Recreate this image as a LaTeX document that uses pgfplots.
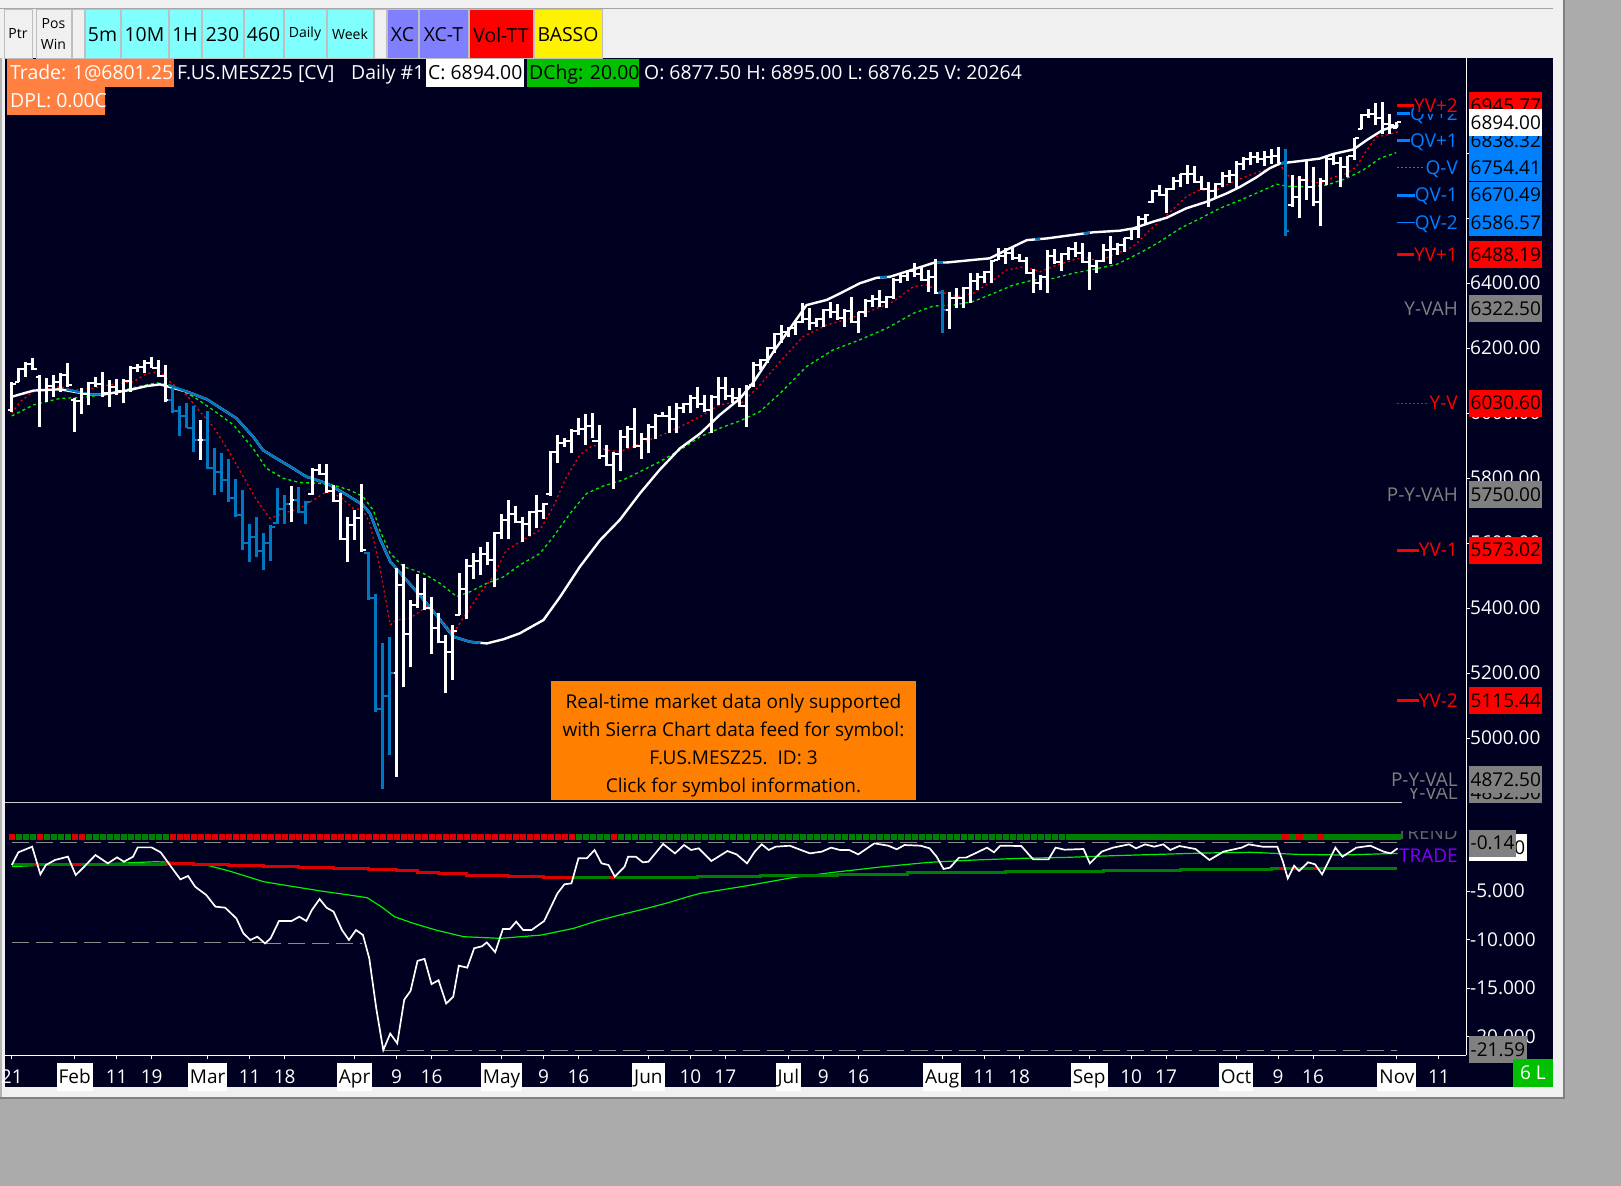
\documentclass[border=0pt]{standalone}
\usepackage{fontspec}
\setmainfont{Open Sans}
\usepackage{pgfplots}
\usepackage{pgfplotstable}
\pgfplotsset{compat=1.18}
\usetikzlibrary{calc}

\definecolor{chartbg}{HTML}{000020}
\definecolor{barblue}{HTML}{0078C0}
\definecolor{qblue}{HTML}{0080FF}
\definecolor{trgreen}{HTML}{008000}
\definecolor{trred}{HTML}{DD0000}
\definecolor{lgreen}{HTML}{00F000}
\definecolor{win}{HTML}{F0F0F0}
\definecolor{desk}{HTML}{ABABAB}
\definecolor{cyanbtn}{HTML}{80FFFF}
\definecolor{lavbtn}{HTML}{8080FF}
\definecolor{orng}{HTML}{FF8040}
\definecolor{infobox}{HTML}{FF8000}
\definecolor{dchg}{HTML}{00C000}
\definecolor{purp}{HTML}{8000FF}
\definecolor{lvlgray}{HTML}{808080}
\definecolor{dashgray}{HTML}{8C8C8C}

\newcommand\lab{\fontsize{19bp}{22bp}\selectfont}
\newcommand\hdr{\fontsize{19.4bp}{22bp}\selectfont}
\newcommand\sml{\fontsize{14bp}{16bp}\selectfont}
\newcommand\mon[1]{{\setlength{\fboxsep}{0pt}\colorbox{white}{\rule[-8bp]{0pt}{28bp}\hspace{2bp}\textcolor{black}{#1}\hspace{2bp}}}}

% daily bars: index, open, high, low, close, colour (1 = blue), trend (g/r)
\pgfplotstableread{
i O H L C c t
0 6010 6096 6004 6090 0 r
1 6096 6137 6096 6135 0 g
2 6135 6158 6112 6150 0 g
3 6150 6168 6132 6135 0 g
4 6110 6117 5956 6071 0 r
5 6071 6107 6035 6083 0 g
6 6083 6117 6050 6094 0 g
7 6094 6122 6066 6117 0 g
8 6117 6153 6081 6085 0 g
9 6040 6045 5943 6036 0 r
10 6036 6076 5997 6060 0 r
11 6060 6096 6025 6092 0 g
12 6092 6112 6081 6088 0 g
13 6088 6127 6050 6061 0 g
14 6061 6102 6020 6080 0 g
15 6080 6104 6055 6067 0 g
16 6067 6104 6030 6100 0 g
17 6100 6145 6066 6139 0 g
18 6139 6151 6127 6142 0 g
19 6142 6163 6122 6154 0 g
20 6154 6171 6137 6140 0 g
21 6140 6163 6112 6115 0 g
22 6115 6148 6033 6040 0 g
23 6040 6076 6001 6005 1 r
24 6005 6021 5930 5992 1 r
25 5992 6032 5953 5955 1 r
26 5955 6021 5881 5916 1 r
27 5916 5978 5855 5917 0 r
28 5917 6007 5828 5832 1 r
29 5832 5891 5748 5817 1 r
30 5817 5876 5758 5793 1 r
31 5793 5860 5727 5740 1 r
32 5740 5796 5681 5685 1 r
33 5685 5763 5578 5601 1 r
34 5601 5660 5543 5619 1 r
35 5619 5681 5558 5574 1 r
36 5574 5632 5517 5600 1 r
37 5600 5655 5546 5650 1 r
38 5662 5768 5660 5704 1 r
39 5704 5748 5660 5720 1 r
40 5720 5775 5666 5732 0 r
41 5732 5773 5691 5695 1 r
42 5695 5730 5660 5725 1 r
43 5750 5832 5748 5826 0 r
44 5826 5843 5809 5812 0 r
45 5812 5843 5753 5760 0 r
46 5760 5778 5727 5730 0 r
47 5730 5755 5609 5611 0 r
48 5611 5681 5542 5655 0 r
49 5655 5701 5609 5677 0 r
50 5677 5781 5573 5580 0 r
51 5570 5573 5425 5430 1 r
52 5430 5442 5081 5090 1 r
53 5090 5291 4842 5130 1 r
54 5130 5312 4948 5201 1 r
55 5201 5522 4881 5470 0 r
56 5470 5534 5156 5321 0 r
57 5321 5425 5217 5410 0 r
58 5410 5504 5399 5442 0 r
59 5442 5491 5394 5400 0 r
60 5400 5435 5260 5337 0 r
61 5337 5384 5291 5295 0 r
62 5295 5317 5137 5264 0 r
63 5264 5348 5180 5330 0 r
64 5380 5507 5378 5457 0 r
65 5457 5550 5365 5528 0 r
66 5528 5568 5488 5545 0 r
67 5545 5589 5501 5566 0 r
68 5566 5602 5531 5548 0 r
69 5548 5633 5464 5630 0 r
70 5630 5688 5611 5671 0 r
71 5671 5732 5611 5688 0 r
72 5688 5714 5663 5665 0 r
73 5665 5681 5604 5660 0 r
74 5660 5698 5622 5696 0 r
75 5696 5748 5645 5697 0 r
76 5697 5722 5673 5720 0 r
77 5750 5883 5745 5880 0 r
78 5880 5932 5845 5909 0 r
79 5909 5922 5896 5913 0 r
80 5913 5950 5876 5945 0 r
81 5945 5984 5932 5950 0 g
82 5950 5996 5901 5960 0 g
83 5960 5999 5922 5915 0 g
84 5915 5963 5857 5869 0 g
85 5869 5901 5837 5840 0 g
86 5840 5881 5765 5875 0 r
87 5875 5948 5822 5925 0 g
88 5925 5960 5891 5952 0 g
89 5952 6014 5891 5899 0 g
90 5899 5938 5860 5921 0 g
91 5921 5966 5876 5958 0 g
92 5958 5997 5919 5990 0 g
93 5990 6004 5987 5990 0 g
94 5990 6022 5937 5983 0 g
95 5983 6030 5937 6014 0 g
96 6014 6030 5999 6027 0 g
97 6027 6055 5999 6046 0 g
98 6046 6079 6014 6029 0 g
99 6029 6055 6004 6010 0 g
100 6010 6055 5938 6050 0 g
101 6050 6110 6025 6076 0 g
102 6076 6112 6040 6053 0 g
103 6053 6076 6030 6047 0 g
104 6047 6076 6019 6022 0 g
105 6022 6086 5958 6080 0 g
106 6085 6158 6081 6148 0 g
107 6148 6165 6132 6162 0 g
108 6162 6204 6153 6200 0 g
109 6200 6247 6184 6242 0 g
110 6242 6271 6214 6250 0 g
111 6250 6266 6235 6263 0 g
112 6263 6286 6240 6280 0 g
113 6280 6337 6276 6288 0 g
114 6288 6322 6255 6278 0 g
115 6278 6291 6266 6290 0 g
116 6290 6319 6266 6317 0 g
117 6317 6343 6291 6310 0 g
118 6310 6335 6286 6292 0 g
119 6292 6319 6266 6315 0 g
120 6315 6358 6276 6279 0 g
121 6279 6312 6247 6310 0 g
122 6310 6350 6296 6345 0 g
123 6345 6363 6327 6352 0 g
124 6352 6378 6327 6341 0 g
125 6341 6360 6322 6358 0 g
126 6358 6414 6350 6410 0 g
127 6410 6430 6399 6423 0 g
128 6423 6440 6407 6438 0 g
129 6438 6462 6419 6429 0 g
130 6429 6452 6407 6410 0 g
131 6410 6440 6373 6419 0 g
132 6419 6473 6366 6370 0 g
133 6370 6378 6247 6316 1 g
134 6316 6373 6260 6353 0 g
135 6353 6384 6322 6354 0 g
136 6354 6387 6322 6385 0 g
137 6385 6432 6339 6405 0 g
138 6405 6432 6378 6418 0 g
139 6418 6438 6399 6435 0 g
140 6435 6471 6399 6468 0 g
141 6471 6507 6471 6483 0 g
142 6483 6507 6460 6491 0 g
143 6491 6512 6471 6477 0 g
144 6477 6489 6466 6468 0 g
145 6468 6481 6428 6430 0 g
146 6430 6442 6370 6401 0 g
147 6401 6425 6378 6420 0 g
148 6420 6501 6370 6482 0 g
149 6482 6504 6460 6464 0 g
150 6464 6491 6438 6488 0 g
151 6488 6512 6471 6504 0 g
152 6504 6527 6481 6493 0 g
153 6493 6524 6462 6465 0 g
154 6465 6496 6380 6451 0 g
155 6451 6471 6432 6469 0 g
156 6469 6520 6465 6503 0 g
157 6503 6546 6460 6504 0 g
158 6504 6522 6486 6518 0 g
159 6518 6540 6496 6538 0 g
160 6538 6568 6532 6566 0 g
161 6566 6606 6540 6597 0 g
162 6597 6612 6583 6610 0 g
163 6650 6686 6647 6684 0 g
164 6684 6701 6668 6670 0 g
165 6670 6691 6616 6688 0 g
166 6688 6725 6686 6715 0 g
167 6715 6735 6696 6734 0 g
168 6734 6763 6705 6734 0 g
169 6734 6760 6709 6712 0 g
170 6712 6729 6686 6690 0 g
171 6690 6712 6633 6683 0 g
172 6683 6707 6660 6705 0 g
173 6705 6742 6696 6728 0 g
174 6728 6748 6709 6732 0 g
175 6732 6776 6688 6767 0 g
176 6767 6787 6748 6783 0 g
177 6783 6804 6763 6787 0 g
178 6787 6804 6770 6783 0 g
179 6783 6807 6760 6788 0 g
180 6788 6811 6766 6792 0 g
181 6792 6817 6768 6770 0 g
182 6770 6811 6546 6560 1 r
183 6640 6732 6635 6665 0 g
184 6665 6729 6601 6716 0 r
185 6716 6778 6655 6696 0 g
186 6696 6756 6637 6648 0 g
187 6648 6722 6575 6715 0 r
188 6715 6791 6701 6781 0 g
189 6781 6799 6763 6770 0 g
190 6770 6789 6696 6758 0 g
191 6758 6791 6725 6790 0 g
192 6790 6845 6780 6845 0 g
193 6875 6920 6873 6918 0 g
194 6918 6934 6907 6919 0 g
195 6919 6953 6886 6909 0 g
196 6909 6958 6860 6889 0 g
197 6889 6920 6858 6885 0 g
198 6877.5 6895 6876.25 6894 0 g
}\bars

\begin{document}
\begin{tikzpicture}
\fill[desk] (0,0) rectangle (1621bp,-1186bp);
\useasboundingbox (0,0) rectangle (1621bp,-1186bp);

\begin{scope}[x=1bp,y=-1bp]
  % window and chart area
  \fill[win] (0,0) rectangle (1563,1097);
  \draw[gray, line width=1.5bp] (1564,0) -- (1564,1098) -- (0,1098);
  \draw[lvlgray!70, line width=1bp] (0,8) -- (1553,8);
  \fill[chartbg] (5,58) rectangle (1553,1087);
  \draw[lvlgray!60, line width=1.5bp] (1,58) -- (1,1097);
  % toolbar
  \tikzset{btn/.style={draw=black!25, line width=0.8bp}}
  \filldraw[btn, fill=win] (4,9) rectangle (32,58);
  \node[font=\sml] at (18,34) {Ptr};
  \filldraw[btn, fill=win] (36,9) rectangle (71,58);
  \node[font=\sml] at (53.5,24) {Pos};
  \node[font=\sml] at (53.5,44) {Win};
  \filldraw[btn, fill=win] (72,9) rectangle (84,58);
  \filldraw[btn, fill=cyanbtn] (85,9) rectangle (120,58);
  \node[font=\hdr] at (102.5,35) {5m};
  \filldraw[btn, fill=cyanbtn] (121,9) rectangle (168,58);
  \node[font=\hdr] at (144.5,35) {10M};
  \filldraw[btn, fill=cyanbtn] (169,9) rectangle (201,58);
  \node[font=\hdr] at (185,35) {1H};
  \filldraw[btn, fill=cyanbtn] (202,9) rectangle (243,58);
  \node[font=\hdr] at (222.5,35) {230};
  \filldraw[btn, fill=cyanbtn] (244,9) rectangle (283,58);
  \node[font=\hdr] at (263.5,35) {460};
  \filldraw[btn, fill=cyanbtn] (284,9) rectangle (326,58);
  \node[font=\sml] at (305,34) {Daily};
  \filldraw[btn, fill=cyanbtn] (327,9) rectangle (373,58);
  \node[font=\sml] at (350,34) {Week};
  \filldraw[btn, fill=win] (374,9) rectangle (386,58);
  \filldraw[btn, fill=lavbtn] (387,9) rectangle (418,58);
  \node[font=\hdr] at (402.5,35) {XC};
  \filldraw[btn, fill=lavbtn] (419,9) rectangle (468,58);
  \node[font=\hdr] at (443.5,35) {XC-T};
  \filldraw[btn, fill=red] (469,9) rectangle (533,58);
  \node[font=\hdr] at (501,35) {Vol-TT};
  \filldraw[btn, fill=yellow] (534,9) rectangle (602,58);
  \node[font=\hdr] at (568,35) {BASSO};
  % header
  \tikzset{hd/.style={anchor=base west, inner sep=0pt, font=\hdr}}
  \fill[orng] (7,59) rectangle (174,87);
  \fill[orng] (7,87) rectangle (105,115);
  \node[hd, text=white] at (10,79) {Trade: 1@6801.25};
  \node[hd, text=white] at (10,107) {DPL: 0.00C};
  \node[hd, text=white] at (177,79) {F.US.MESZ25 [CV]};
  \node[hd, text=white] at (351,79) {Daily \#1};
  \fill[white] (426,59) rectangle (524,87);
  \node[hd, text=black] at (428,79) {C: 6894.00};
  \fill[dchg] (527,59) rectangle (639,87);
  \node[hd, text=black] at (529,79) {DChg: 20.00};
  \node[hd, text=white] at (644,79) {O: 6877.50 H: 6895.00 L: 6876.25 V: 20264};
\end{scope}

\begin{axis}[
  scale only axis, width=1461bp, height=744bp,
  at={(5bp,-58bp)}, anchor=north west,
  xmin=-0.97, xmax=207.87, ymin=4803.1, ymax=7092.3,
  axis x line=none, axis y line*=right,
  axis line style={white, line width=1bp},
  ytick={5000,5200,...,6800},
  tick align=outside, major tick length=4bp,
  tick style={white, line width=1bp},
  yticklabel style={font=\lab, text=white, anchor=west, inner sep=0pt},
  yticklabel={\pgfmathprintnumber[fixed,fixed zerofill,precision=2,1000 sep={},assume math mode=true]{\tick}},
]
% medium average, green dashed
\addplot[lgreen, line width=1.3bp, dash pattern=on 3bp off 3bp] coordinates {
(0,5991) (3.1,6025) (6.9,6045) (10.2,6048) (13.6,6058) (17.4,6078) (20.7,6093) (22.6,6086) (26,6050) (28.8,6009) (31.7,5963) (34.5,5891) (36.4,5830) (38.8,5799) (41.2,5786) (43.6,5784) (46,5778) (48.3,5763) (50.2,5743) (51.7,5700) (52.6,5640) (54.1,5568) (56,5527) (58.8,5507) (61.2,5476) (63.6,5435) (65.5,5450) (67.9,5476) (70.3,5496) (72.6,5532) (75.5,5568) (77.4,5619) (79.8,5691) (82.2,5753) (84.5,5775) (87.4,5794) (90.3,5825) (92.6,5850) (95.5,5886) (98.4,5927) (101.2,5953) (104.1,5976) (106.9,6004) (109.8,6060) (113.6,6143) (117.4,6194) (121.2,6225) (125.1,6261) (128.9,6307) (131.7,6329) (134.6,6332) (137.4,6343) (140.3,6368) (143.2,6394) (146,6409) (148.9,6414) (151.7,6430) (154.6,6442) (157.9,6457) (161.3,6493) (164.1,6527) (167,6568) (169.9,6599) (172.7,6630) (175.6,6655) (178.4,6681) (180.8,6704) (182.2,6698) (185.1,6696) (187.9,6701) (190.8,6722) (193.2,6748) (195.6,6784) (197.9,6801)};
% fast average, red dotted
\addplot[red, line width=1.3bp, dash pattern=on 2bp off 3bp] coordinates {
(0,5999) (1.2,6035) (3.1,6066) (6.9,6081) (8.8,6071) (11.6,6076) (15,6091) (17.4,6096) (19.3,6122) (21.2,6127) (22.6,6096) (25,6055) (26.9,6004) (28.8,5958) (31.2,5876) (33.1,5804) (35,5732) (36.9,5676) (38.8,5691) (41.2,5707) (43.1,5732) (45,5758) (46.9,5743) (48.8,5707) (50.2,5702) (51.2,5660) (52.6,5527) (54.1,5348) (55,5363) (56.9,5368) (59.3,5404) (61.2,5368) (63.1,5322) (65,5384) (66.9,5445) (68.8,5496) (70.7,5578) (73.1,5609) (75.5,5640) (77.4,5712) (79.3,5804) (81.2,5871) (83.1,5901) (85,5886) (86.9,5881) (89.3,5901) (91.7,5922) (94.1,5943) (96.5,5968) (98.8,5994) (101.2,6025) (103.6,6035) (104.3,6030) (106.7,6080) (109.5,6150) (113.1,6235) (116.5,6271) (119.8,6291) (123.1,6317) (126,6343) (128.9,6389) (130.8,6394) (132.7,6373) (135.1,6358) (137.4,6368) (140.3,6409) (142.2,6440) (144.6,6450) (147,6435) (149.4,6455) (151.7,6471) (153.2,6479) (155.5,6468) (157.9,6490) (160.3,6512) (162.7,6563) (165.1,6609) (167.9,6666) (169.8,6686) (172.2,6686) (174.6,6712) (177,6732) (179.4,6750) (181.3,6763) (182.7,6725) (185.1,6717) (187,6707) (188.9,6725) (190.8,6737) (192.2,6758) (193.7,6809) (195.1,6850) (196.5,6855) (198.2,6866)};
% slow average, white when rising, blue when falling
\addplot[white, line width=2.4bp] coordinates {
(0,6050) (3.1,6069) (6.9,6073) (11.2,6057) (13.1,6057) (16.9,6071) (19.3,6083) (21.2,6088) (25,6066) (27.9,6042) (32.1,5984) (34.5,5927) (35.9,5886) (37.4,5866) (39.8,5835) (42.1,5804) (45,5784) (47.9,5748) (50.2,5717) (51.2,5691) (52.6,5614) (54.1,5543) (56,5496) (58.3,5440) (60.7,5378) (63.1,5312) (65.5,5296) (67.9,5291) (70.3,5304) (72.6,5322) (76,5363) (78.4,5435) (81.2,5527) (84.1,5609) (86.9,5671) (89.8,5753) (92.6,5825) (95.5,5891) (98.4,5937) (101.2,5994) (104.1,6045) (106,6094) (108.9,6189) (113.6,6332) (116.5,6348) (118.4,6368) (121.2,6399) (123.6,6416) (125.5,6419) (128.9,6442) (131.9,6463) (133.6,6463) (137.4,6471) (139.8,6476) (142.2,6502) (145.1,6532) (147.9,6537) (151.7,6548) (154.6,6556) (158.4,6561) (160.3,6568) (163.2,6589) (165.1,6601) (167.9,6630) (170.8,6650) (173.7,6676) (175.6,6696) (177.9,6725) (179.8,6753) (181.3,6768) (184.1,6775) (187,6783) (188.9,6797) (191.8,6811) (193.7,6840) (196,6871) (198.2,6886)};
\addplot[barblue, line width=2.4bp] coordinates {(7.8,6073) (11.2,6057) (13.1,6057)};
\addplot[barblue, line width=2.4bp] coordinates {(22.4,6086) (25,6066) (27.9,6042) (32.1,5984) (34.5,5927) (35.9,5886) (37.4,5866) (39.8,5835) (42.1,5804) (45,5784) (47.9,5748) (50.2,5717) (51.2,5691) (52.6,5614) (54.1,5543) (56,5496) (58.3,5440) (60.7,5378) (63.1,5312) (65.5,5296) (67,5293)};
\addplot[barblue, line width=2.4bp] coordinates {(124.1,6417) (125.1,6419)};
\addplot[barblue, line width=2.4bp] coordinates {(132.3,6463) (133.1,6463)};
\addplot[barblue, line width=2.4bp] coordinates {(146.3,6534) (147,6536)};
\addplot[barblue, line width=2.4bp] coordinates {(153.2,6552) (154.1,6555)};
\addplot[barblue, line width=2.4bp] coordinates {(181.3,6768) (182,6770)};
% OHLC bars
\addplot[white, line width=3bp, quiver={u=0, v=\thisrow{H}-\thisrow{L}},
  restrict expr to domain={\thisrow{c}}{-0.5:0.5}] table[x=i, y=L] {\bars};
\addplot[white, line width=2bp, quiver={u=-0.6, v=0},
  restrict expr to domain={\thisrow{c}}{-0.5:0.5}] table[x=i, y=O] {\bars};
\addplot[white, line width=2bp, quiver={u=0.6, v=0},
  restrict expr to domain={\thisrow{c}}{-0.5:0.5}] table[x=i, y=C] {\bars};
\addplot[barblue, line width=3bp, quiver={u=0, v=\thisrow{H}-\thisrow{L}},
  restrict expr to domain={\thisrow{c}}{0.5:1.5}] table[x=i, y=L] {\bars};
\addplot[barblue, line width=2bp, quiver={u=-0.6, v=0},
  restrict expr to domain={\thisrow{c}}{0.5:1.5}] table[x=i, y=O] {\bars};
\addplot[barblue, line width=2bp, quiver={u=0.6, v=0},
  restrict expr to domain={\thisrow{c}}{0.5:1.5}] table[x=i, y=C] {\bars};
\end{axis}

\begin{scope}[x=1bp,y=-1bp]
  % info box
  \fill[infobox] (551,681) rectangle (916,800);
  \tikzset{ib/.style={anchor=base, inner sep=0pt, font=\lab, text=black}}
  \node[ib] at (733.5,708) {Real-time market data only supported};
  \node[ib] at (733.5,736) {with Sierra Chart data feed for symbol:};
  \node[ib] at (733.5,764) {F.US.MESZ25.\ \ ID: 3};
  \node[ib] at (733.5,792) {Click for symbol information.};
  % level labels (drawn on the chart colour, so later ones hide earlier ones)
  \tikzset{rl/.style={anchor=base east, inner xsep=0pt, inner ysep=1.5bp, fill=chartbg, font=\lab},
           pb/.style={anchor=west, inner xsep=1.5bp, inner ysep=0pt, minimum height=27bp,
                      text height=13.6bp, text depth=0bp, font=\lab, text=black}}
  \node[rl, text=qblue] (q2) at (1458,120.2) {QV+2};
  \draw[qblue, line width=3bp] (1397,113.4) -- (q2.west |- 0,113.4);
  \node[rl, text=red] (y2) at (1458,112.4) {YV+2};
  \draw[red, line width=3bp] (1397,105.6) -- (y2.west |- 0,105.6);
  \node[rl, text=qblue] (q1) at (1458,147.3) {QV+1};
  \draw[qblue, line width=3bp] (1397,140.5) -- (q1.west |- 0,140.5);
  \node[rl, text=qblue] (qv) at (1458,174.6) {Q-V};
  \draw[qblue, line width=1bp, dash pattern=on 2bp off 2bp] (1397,167.8) -- ($(qv.west |- 0,167.8)+(-2,0)$);
  \node[rl, text=qblue] (qm1) at (1458,201.9) {QV-1};
  \draw[qblue, line width=3bp] (1397,195.1) -- (qm1.west |- 0,195.1);
  \node[rl, text=qblue] (qm2) at (1458,229.2) {QV-2};
  \draw[qblue, line width=1.8bp] (1397,222.4) -- (qm2.west |- 0,222.4);
  \node[rl, text=red] (y1) at (1458,261.1) {YV+1};
  \draw[red, line width=3bp] (1397,254.3) -- (y1.west |- 0,254.3);
  \node[rl, text=lvlgray] at (1458,315) {Y-VAH};
  \node[rl, text=red] (yv) at (1458,409.9) {Y-V};
  \draw[red, line width=1bp, dash pattern=on 2bp off 2bp] (1397,403.1) -- ($(yv.west |- 0,403.1)+(-2,0)$);
  \node[rl, text=lvlgray] at (1458,501.1) {P-Y-VAH};
  \node[rl, text=red] (ym1) at (1458,556.8) {YV-1};
  \draw[red, line width=3bp] (1397,550) -- (ym1.west |- 0,550);
  \node[rl, text=red] (ym2) at (1458,707.3) {YV-2};
  \draw[red, line width=2.5bp] (1397,700.5) -- (ym2.west |- 0,700.5);
  \node[rl, text=lvlgray] at (1458,799.2) {Y-VAL};
  \node[rl, text=lvlgray] at (1458,786.2) {P-Y-VAL};
  % price boxes
  \node[pb, fill=red] at (1469,105.6) {6945.77};
  \node[pb, fill=qblue] at (1469,140.5) {6838.32};
  \node[pb, fill=qblue] at (1469,167.8) {6754.41};
  \node[pb, fill=qblue] at (1469,195.1) {6670.49};
  \node[pb, fill=qblue] at (1469,222.4) {6586.57};
  \node[pb, fill=white] at (1469,122.5) {6894.00};
  \node[pb, fill=red] at (1469,254.3) {6488.19};
  \node[pb, fill=lvlgray] at (1469,308.2) {6322.50};
  \node[pb, fill=red] at (1469,403.1) {6030.60};
  \node[pb, fill=lvlgray] at (1469,494.3) {5750.00};
  \node[pb, fill=red] at (1469,550) {5573.02};
  \node[pb, fill=red] at (1469,700.5) {5115.44};
  \node[pb, fill=lvlgray] at (1469,792.4) {4832.50};
  \node[pb, fill=lvlgray] at (1469,779.4) {4872.50};
  % lower pane area
  \fill[chartbg] (5,802.5) rectangle (1553,1087);
\end{scope}

\begin{axis}[
  scale only axis, width=1461bp, height=253bp,
  at={(5bp,-802bp)}, anchor=north west,
  xmin=-0.97, xmax=207.87, ymin=-21.907, ymax=4.175,
  axis x line*=bottom, axis y line*=right,
  axis line style={white, line width=1bp},
  tick align=outside, major tick length=4bp,
  tick style={white, line width=1bp},
  xtick={0,9,15,20,28,34,39,49,55,60,70,76,81,91,97,102,111,116,121,133,139,144,154,160,165,175,181,186,198,204},
  xticklabels={21,\mon{Feb},11,19,\mon{Mar},11,18,\mon{Apr},9,16,\mon{May},9,16,\mon{Jun},10,17,\mon{Jul},9,16,\mon{Aug},11,18,\mon{Sep},10,17,\mon{Oct},9,16,\mon{Nov},11},
  xticklabel style={font=\lab, text=white, anchor=base, inner sep=0pt, yshift=-24bp},
  ytick={-20,-15,-10,-5},
  yticklabel style={font=\lab, text=white, anchor=west, inner sep=0pt},
  yticklabel={\pgfmathprintnumber[fixed,fixed zerofill,precision=3,assume math mode=true]{\tick}},
]
% reference levels
\addplot[dashgray, line width=1.2bp, dash pattern=on 17bp off 7bp] coordinates {(0,0) (198,0)};
\addplot[dashgray, line width=1.2bp, dash pattern=on 17bp off 7bp] coordinates {(0,-10.3) (36,-10.3)};
\addplot[dashgray, line width=1.2bp, dash pattern=on 17bp off 7bp] coordinates {(36,-10.45) (50,-10.45)};
\addplot[dashgray, line width=1.2bp, dash pattern=on 17bp off 7bp] coordinates {(53,-21.45) (198,-21.45)};
% signal line, thin green
\addplot[lgreen, line width=1.2bp] coordinates {
(0,-2.49) (4.9,-2.32) (11.4,-2.25) (20.6,-1.98) (22.6,-2.04) (27.8,-2.32) (31.1,-2.94) (36,-4.04) (40.3,-4.55) (44.2,-5.0) (48.2,-5.41) (50.8,-5.69) (52.8,-6.61) (54.7,-7.65) (57.4,-8.33) (60.6,-9.02) (64.6,-9.71) (69.8,-9.88) (75.7,-9.54) (80.3,-8.85) (83.6,-8.09) (86.9,-7.47) (90.2,-6.89) (93.5,-6.27) (96.7,-5.58) (98.4,-5.24) (104.9,-4.48) (111.5,-3.63) (117.4,-3.08) (124.6,-2.49) (131.2,-2.04) (137.7,-1.8) (144.3,-1.63) (150.9,-1.53) (157.4,-1.36) (164,-1.22) (170.6,-1.08) (177.1,-1.01) (183.7,-1.22) (190.2,-1.29) (198.1,-1.12)};
% slow stepped line, green with red stretches
\addplot[trgreen, line width=3bp, const plot] coordinates {
(0,-2.25) (22,-2.2) (26,-2.28) (31,-2.35) (36,-2.45) (41,-2.56) (46,-2.65) (51,-2.77) (55,-2.9) (58,-3.08) (61,-3.2) (65,-3.35) (71,-3.5) (76,-3.59) (98,-3.49) (107,-3.35) (118,-3.28) (128,-3.14) (142,-3.04) (156,-2.87) (167,-2.77) (180,-2.7) (198,-2.7)};
\addplot[trred, line width=3bp, const plot] coordinates {(3,-2.25) (4,-2.25)};
\addplot[trred, line width=3bp, const plot] coordinates {(8.5,-2.25) (10,-2.25)};
\addplot[trred, line width=3bp, const plot] coordinates {
(22,-2.2) (26,-2.28) (31,-2.35) (36,-2.45) (41,-2.56) (46,-2.65) (51,-2.77) (55,-2.9) (58,-3.08) (61,-3.2) (65,-3.35) (71,-3.5) (76,-3.59) (80.3,-3.59)};
\addplot[trred, line width=3bp, const plot] coordinates {(85.5,-3.59) (86.3,-3.59)};
\addplot[trred, line width=3bp, const plot] coordinates {(181.2,-2.7) (182,-2.7)};
\addplot[trred, line width=3bp, const plot] coordinates {(183,-2.7) (183.7,-2.7)};
\addplot[trred, line width=3bp, const plot] coordinates {(186,-2.7) (187,-2.7)};
% oscillator, white
\addplot[white, line width=1.7bp] coordinates {
(0,-2.32) (0.94,-1.01) (2.91,-0.43) (4.09,-3.28) (4.87,-2.32) (6.19,-1.8) (8.02,-1.46) (9.14,-3.35) (10.12,-2.66) (11.96,-1.29) (13.73,-2.15) (15.05,-1.53) (16.03,-1.98) (17.34,-1.46) (18,-0.5) (19.97,-0.5) (21.28,-1.01) (22.59,-2.32) (24.1,-3.8) (25.2,-3.45) (26.2,-4.55) (27.8,-5.41) (29.1,-6.61) (30.5,-6.72) (32.1,-7.82) (33.1,-9.36) (34.1,-10.05) (35.1,-9.71) (36.2,-10.4) (37,-9.88) (38.2,-8.09) (40,-8.09) (41.1,-7.65) (42.1,-8.09) (42.9,-6.96) (44,-5.83) (45,-6.72) (46,-7.13) (47.2,-9.02) (48.2,-10.05) (49.2,-9.02) (50.2,-9.54) (51.1,-11.94) (52.1,-17.1) (53.1,-21.4) (54.1,-19.7) (55.1,-20.7) (56.1,-16.2) (57,-15.3) (58,-12.2) (59,-12.0) (60,-14.6) (61,-14.2) (62.1,-16.6) (63.1,-15.9) (63.9,-12.7) (65.1,-12.9) (66.1,-10.9) (67.2,-10.7) (67.9,-10.3) (69.1,-11.3) (70.2,-8.92) (71.2,-8.92) (72.1,-8.16) (73.1,-9.02) (74.3,-9.02) (76.1,-8.09) (78,-5.24) (79,-4.31) (80,-4.21) (81,-1.63) (82.2,-1.63) (83.3,-0.77) (84.3,-2.15) (85.3,-2.32) (86.2,-3.52) (87.6,-2.49) (88.1,-1.46) (89.2,-1.46) (90.2,-2.04) (91,-1.98) (93.1,-0.15) (94.8,-1.12) (96.1,-0.26) (97.1,-0.77) (98.2,-0.6) (100,-1.91) (102.3,-0.88) (103.6,-1.22) (105.1,-2.15) (106.2,-0.94) (107.2,-0.19) (108.2,-0.77) (109.2,-0.43) (111.2,-0.33) (112.8,-0.77) (114.1,-1.12) (115.8,-0.94) (117.1,-0.53) (118.4,-0.77) (119.7,-0.77) (121,-1.22) (123.3,-0.09) (125.3,-0.33) (126.5,-0.7) (127.6,-0.26) (129.9,-0.33) (131.2,-0.6) (132.2,-1.46) (133.2,-2.73) (134.1,-2.59) (135.4,-1.56) (136.4,-1.56) (137.7,-1.12) (139.4,-0.53) (140.4,-1.01) (141.3,-0.33) (144.3,-0.36) (146,-1.74) (148.2,-1.74) (149.2,-0.53) (150.5,-0.74) (153.2,-0.67) (154.1,-2.15) (155.8,-0.94) (157.4,-0.53) (159.7,-0.19) (160.7,-0.6) (162,-0.19) (163.3,-0.43) (164.6,-0.19) (165.6,-0.77) (166.9,-0.36) (169.2,-0.67) (171.2,-1.8) (173.2,-0.94) (175.8,-0.53) (176.8,-0.19) (178.8,-0.43) (180.9,-0.43) (181.7,-1.98) (182.4,-3.7) (183.3,-2.39) (184,-2.94) (185.3,-2.04) (186.3,-2.25) (187.3,-3.28) (189.2,-0.53) (190.2,-1.46) (192.2,-0.53) (194.2,-0.33) (196.1,-0.94) (197.1,-1.12) (198.1,-0.6)};
% trend squares
\addplot[scatter, only marks, scatter src=explicit symbolic, mark size=2.6bp,
  scatter/classes={g={mark=square*, draw=trgreen, fill=trgreen, line width=0.1bp}, r={mark=square*, draw=trred, fill=trred, line width=0.1bp}}]
  table[x=i, y expr=0.64, meta=t] {\bars};
\end{axis}

\begin{scope}[x=1bp,y=-1bp]
  \draw[white!80!black, line width=1.2bp] (5,802.5) -- (1402,802.5);
  \begin{scope}
    \clip (1380,831) rectangle (1466,845);
    \node[anchor=base east, inner sep=0pt, font=\lab, text=lvlgray!120] at (1458,839) {TREND};
  \end{scope}
  \node[anchor=base east, inner sep=0pt, font=\lab, text=purp] at (1458,862) {TRADE};
  \tikzset{pb/.style={anchor=west, inner xsep=1.5bp, inner ysep=0pt, minimum height=27bp,
                      text height=13.6bp, text depth=0bp, font=\lab, text=black}}
  \node[pb, fill=white] at (1469,847.5) {-0.140};
  \node[pb, fill=lvlgray] at (1469,843) {-0.14};
  \node[pb, fill=lvlgray] at (1469,1049.5) {-21.59};
  \fill[dchg] (1513,1059) rectangle (1553,1087);
  \node[anchor=base, inner sep=0pt, font=\lab, text=white] at (1533,1079.8) {6 L};
\end{scope}
\end{tikzpicture}
\end{document}
